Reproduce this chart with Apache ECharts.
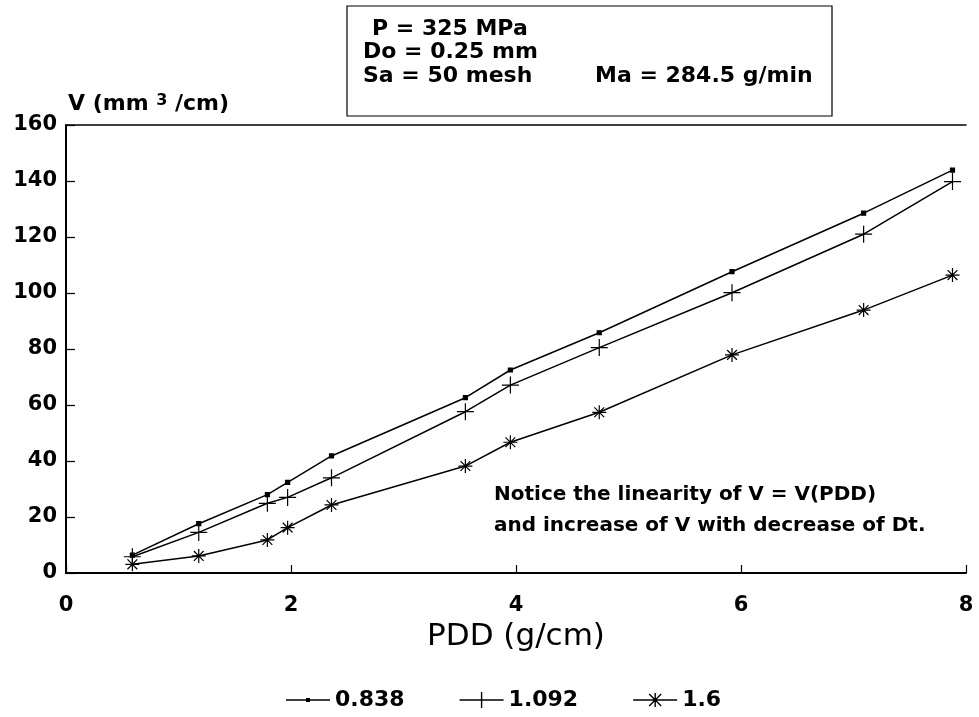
<!DOCTYPE html>
<html>
<head>
<meta charset="utf-8">
<script src="https://cdn.jsdelivr.net/npm/echarts@6/dist/echarts.min.js"></script>
<style>
  html, body { margin: 0; padding: 0; background: #fff; }
  #chart { width: 979px; height: 717px; }
</style>
</head>
<body>
<div id="chart"></div>
<script>
// PDD (g/cm) positions of the measured points
const pdd = [0.59, 1.18, 1.79, 1.97, 2.36, 3.55, 3.95, 4.74, 5.92, 7.09, 7.88]
// V (mm3/cm) for each Dt
const v0838 = [6.4, 17.6, 28.0, 32.4, 41.8, 62.6, 72.5, 85.8, 107.6, 128.5, 143.9]
const v1092 = [5.8, 14.5, 24.9, 27.0, 34.0, 57.6, 67.1, 80.5, 100.1, 121.0, 139.8]
const v16 = [3.1, 6.1, 11.8, 16.2, 24.3, 38.2, 46.7, 57.4, 77.9, 93.9, 106.4]
const seriesNames = ['0.838', '1.092', '1.6']
const xTicks = [0, 8, 2]     // min, max, interval
const yTicks = [0, 160, 20]

const FONT = 'DejaVu Sans'
const BOLD = (size) => 'bold ' + size + 'px "DejaVu Sans"'

// marker shapes (stroked)
const plusPath = 'path://M0,10L20,10M10,0L10,20'
const starPath = 'path://M0,10L20,10M10,0L10,20M3,3L17,17M17,3L3,17'
// legend icons (filled, 44 x 16 box)
const iconLine = 'M0,7.25L44,7.25L44,8.75L0,8.75Z'
const legendIcons = [
    'path://' + iconLine + 'M20,6L24,6L24,10L20,10ZM22,0L22.05,0L22,0.05ZM22,16L22.05,16L22,15.95Z',
    'path://' + iconLine + 'M21.3,0L22.7,0L22.7,16L21.3,16Z',
    'path://' + iconLine + 'M21.3,1L22.7,1L22.7,15L21.3,15ZM15.5,2.5L16.5,1.5L28.5,13.5L27.5,14.5ZM27.5,1.5L28.5,2.5L16.5,14.5L15.5,13.5ZM22,0L22.05,0L22,0.05ZM22,16L22.05,16L22,15.95Z'
]

const pairs = ys => pdd.map((x, i) => [x, ys[i]])

const chart = echarts.init(document.getElementById('chart'))

const lineSeries = (name, ys, symbol, size) => ({
    name,
    type: 'line',
    data: pairs(ys),
    symbol,
    symbolSize: size,
    showSymbol: true,
    lineStyle: { color: '#000', width: 1.5 },
    itemStyle: { color: '#000', borderColor: '#000', borderWidth: 1.2 },
    emphasis: { disabled: true },
    z: 3
})

chart.setOption({
    animation: false,
    backgroundColor: '#fff',
    grid: { left: 66, right: 13, top: 125, bottom: 144 },
    xAxis: [{
        type: 'value',
        min: xTicks[0], max: xTicks[1], interval: xTicks[2],
        axisLine: { lineStyle: { color: '#000', width: 2 } },
        axisTick: { inside: true, length: 8, lineStyle: { color: '#000', width: 1.2 } },
        axisLabel: { margin: 22, color: '#000', fontFamily: FONT, fontWeight: 'bold', fontSize: 21 },
        splitLine: { show: false },
        name: 'PDD (g/cm)',
        nameLocation: 'middle',
        nameGap: 48,
        nameTextStyle: { color: '#000', fontFamily: FONT, fontSize: 31 }
    }, {
        type: 'value',
        position: 'top',
        min: xTicks[0], max: xTicks[1], interval: xTicks[2],
        axisLine: { show: true, lineStyle: { color: '#000', width: 1.5 } },
        axisTick: { show: false },
        axisLabel: { show: false },
        splitLine: { show: false }
    }],
    yAxis: {
        type: 'value',
        min: yTicks[0], max: yTicks[1], interval: yTicks[2],
        axisLine: { show: true, lineStyle: { color: '#000', width: 2 } },
        axisTick: { show: true, inside: true, length: 9, lineStyle: { color: '#000', width: 1.2 } },
        axisLabel: { margin: 9, color: '#000', fontFamily: FONT, fontWeight: 'bold', fontSize: 21 },
        splitLine: { show: false }
    },
    legend: {
        left: 281,
        top: 684,
        itemWidth: 44,
        itemHeight: 16,
        itemGap: 55,
        itemStyle: { borderWidth: 0 },
        textStyle: { color: '#000', fontFamily: FONT, fontWeight: 'bold', fontSize: 22 },
        data: seriesNames.map((name, i) => ({ name, icon: legendIcons[i] }))
    },
    graphic: [
        {
            type: 'rect',
            shape: { x: 347, y: 6, width: 485, height: 110 },
            style: { fill: '#fff', stroke: '#000', lineWidth: 1.2 }
        },
        {
            type: 'text', x: 372, y: 29,
            style: { text: 'P = 325 MPa', font: BOLD(22), fill: '#000', verticalAlign: 'middle' }
        },
        {
            type: 'text', x: 363, y: 52,
            style: { text: 'Do = 0.25 mm', font: BOLD(22), fill: '#000', verticalAlign: 'middle' }
        },
        {
            type: 'text', x: 363, y: 76,
            style: { text: 'Sa = 50 mesh', font: BOLD(22), fill: '#000', verticalAlign: 'middle' }
        },
        {
            type: 'text', x: 595, y: 76,
            style: { text: 'Ma = 284.5 g/min', font: BOLD(22), fill: '#000', verticalAlign: 'middle' }
        },
        {
            type: 'text', x: 68, y: 104,
            style: {
                text: '{a|V (mm }{s|3}{a| /cm)}',
                verticalAlign: 'middle',
                rich: {
                    a: { font: BOLD(22), fill: '#000', verticalAlign: 'bottom' },
                    s: { font: BOLD(16), fill: '#000', verticalAlign: 'top' }
                }
            }
        },
        {
            type: 'text', x: 494, y: 495,
            style: { text: 'Notice the linearity of V = V(PDD)', font: BOLD(20), fill: '#000', verticalAlign: 'middle' }
        },
        {
            type: 'text', x: 494, y: 526,
            style: { text: 'and increase of V with decrease of Dt.', font: BOLD(20), fill: '#000', verticalAlign: 'middle' }
        }
    ],
    series: [
        lineSeries(seriesNames[0], v0838, 'rect', 4),
        lineSeries(seriesNames[1], v1092, plusPath, 17),
        lineSeries(seriesNames[2], v16, starPath, 14)
    ]
})
</script>
</body>
</html>
